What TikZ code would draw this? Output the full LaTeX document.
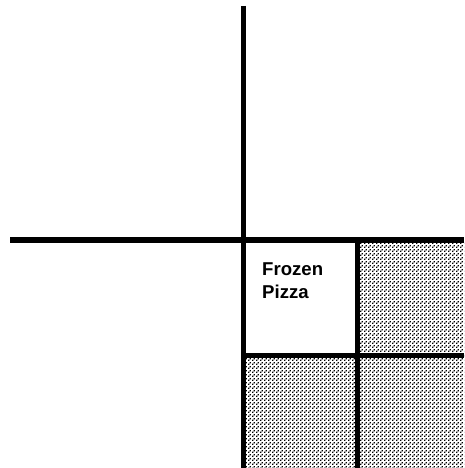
\documentclass[tikz,border=0pt]{standalone}
\usepackage{fontspec}
\setmainfont{Liberation Sans}
\usetikzlibrary{patterns}

% Fine halftone screen for the shaded cells.
\pgfdeclarepatternformonly{halftone}{\pgfpointorigin}{\pgfpoint{4pt}{4pt}}{\pgfpoint{4pt}{4pt}}{%
  \pgfpathrectangle{\pgfpoint{0pt}{0pt}}{\pgfpoint{1.7pt}{1.7pt}}%
  \pgfpathrectangle{\pgfpoint{2pt}{2pt}}{\pgfpoint{1.7pt}{1.7pt}}%
  \pgfusepath{fill}}

\begin{document}
\begin{tikzpicture}[
  x=1pt, y=-1pt,
  axis/.style={black, line width=5.5pt},
  grid/.style={black, line width=5.2pt},
  shaded/.style={pattern=halftone, pattern color=black},
  label/.style={font=\bfseries\fontsize{18.6}{23}\selectfont, align=left,
    anchor=north west, inner sep=0pt}
]
\useasboundingbox (0,0) rectangle (464,468);

% Shaded cells of the quadrant.
\fill[shaded] (357.5,240) rectangle (464,355.5);
\fill[shaded] (243.5,355.5) rectangle (357.5,468);
\fill[shaded] (357.5,355.5) rectangle (464,468);

% Axes.
\coordinate (top) at (243.5,6);
\coordinate (bottom) at (243.5,468);
\coordinate (left) at (10,240);
\coordinate (right) at (464,240);
\draw[axis] (top) -- (bottom);
\draw[axis] (left) -- (right);

% Inner dividers.
\draw[grid] (357.5,240) -- (357.5,468);
\draw[grid] (243.5,355.5) -- (464,355.5);

\node[label] (pizza) at (262,262.5) {Frozen\\Pizza};
\end{tikzpicture}
\end{document}
